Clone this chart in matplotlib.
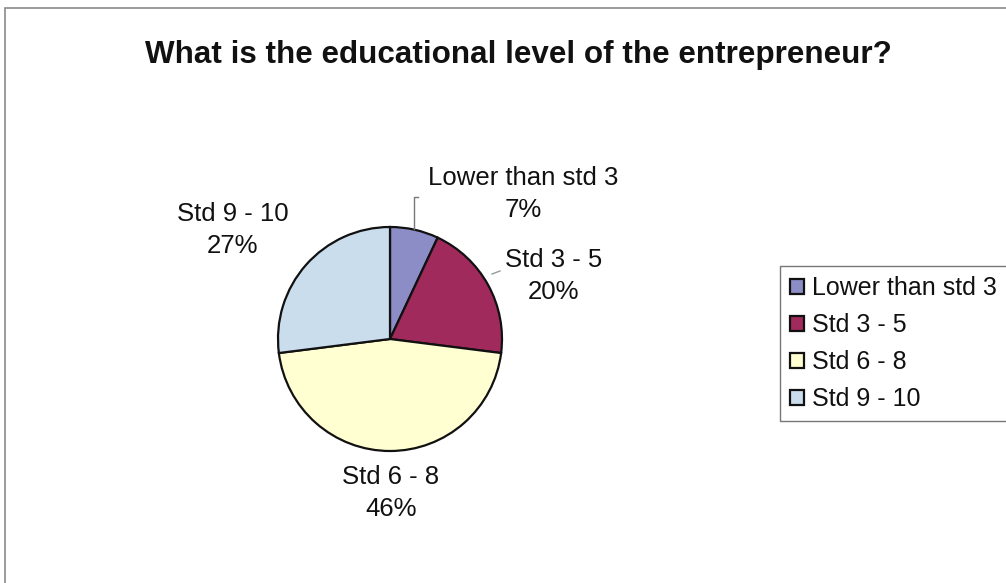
import matplotlib
matplotlib.use("Agg")
import matplotlib.pyplot as plt
from matplotlib.patches import Rectangle

plt.rcParams['font.family'] = ['Liberation Sans', 'DejaVu Sans']

# Survey results
categories = ["Lower than std 3", "Std 3 - 5", "Std 6 - 8", "Std 9 - 10"]
shares = [7, 20, 46, 27]
colors = ["#8C8CC6", "#A02A5C", "#FFFFD2", "#C9DDEC"]
title = "What is the educational level of the entrepreneur?"

W, H = 1006, 583
fig = plt.figure(figsize=(W / 100, H / 100), dpi=100)
ax = fig.add_axes([0, 0, 1, 1])

# pixel-like coordinates, y pointing up
cx, cy, r = 390, H - 339, 112
wedges, _ = ax.pie(shares, colors=colors, startangle=90, counterclock=False,
                   center=(cx, cy), radius=r, frame=True,
                   wedgeprops=dict(edgecolor="#111111", linewidth=1.6))
ax.set_xlim(0, W)
ax.set_ylim(0, H)
ax.set_aspect('equal')
ax.axis('off')

# outer chart frame
ax.add_patch(Rectangle((5, -20), W + 20, H - 8 + 20, fill=False,
                       edgecolor="#8a8a8a", linewidth=1.2))

# data labels
label_pos = [(523, H - 194), (554, H - 276), (391, H - 493), (233, H - 230)]
for name, val, (x, y) in zip(categories, shares, label_pos):
    ax.text(x, y, f"{name}\n{val}%", ha='center', va='center', fontsize=18.5,
            linespacing=1.42, color="#111111")

# leader lines
ax.plot([414, 414, 418], [H - 229, H - 197, H - 197], color="#777777", lw=1)
ax.plot([492, 500], [H - 274, H - 271], color="#999999", lw=1)

ax.text(518, H - 55, title, ha='center', va='center', fontsize=22.6,
        fontweight='bold', color="#111111")

leg = fig.legend(wedges, categories, loc='upper left',
                 bbox_to_anchor=(780 / W, 1 - 266 / H), fontsize=18,
                 frameon=True, fancybox=False, edgecolor="#555555",
                 handlelength=0.55, handleheight=0.55, handletextpad=0.35,
                 labelspacing=0.52, borderpad=0.4, borderaxespad=0)
leg.get_frame().set_linewidth(1.0)
for t in leg.get_texts():
    t.set_color("#111111")

fig.savefig("out.png", dpi=100)
